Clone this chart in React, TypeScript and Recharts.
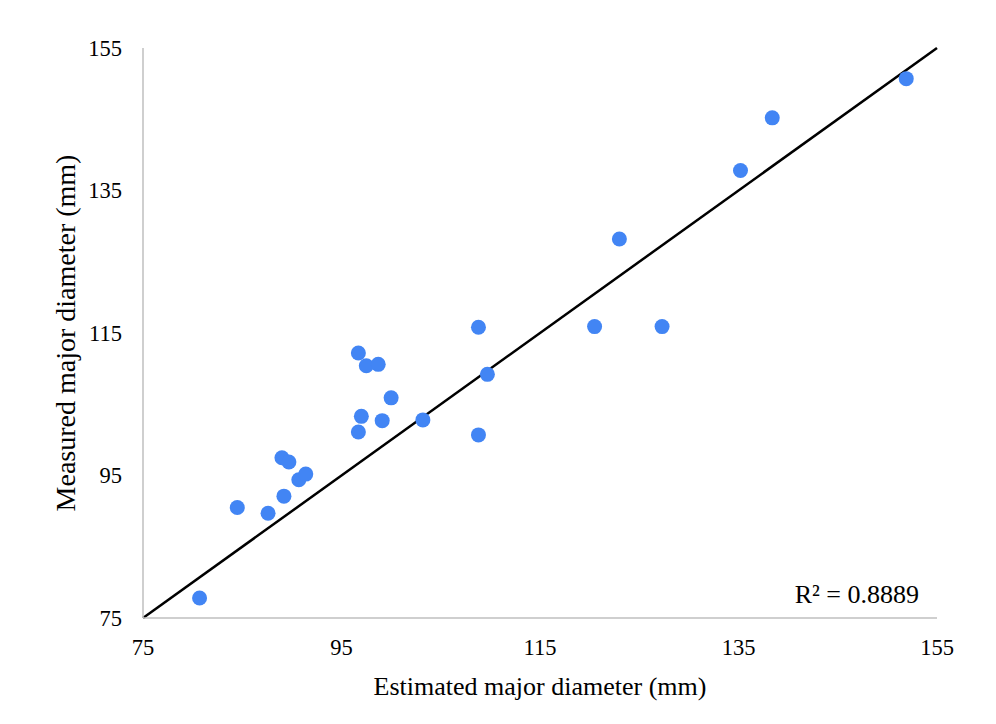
import { ScatterChart, Scatter, XAxis, YAxis, ReferenceLine } from 'recharts';

// estimated (x) vs measured (y) major diameter, mm
const estimated = [
  80.7, 84.5, 87.6, 89.2, 90.7, 91.4, 89.0, 89.7, 96.7, 97.0, 99.1, 100.0, 96.7,
  97.5, 98.7, 103.2, 108.8, 109.7, 108.8, 151.9, 138.4, 135.2, 123.0, 120.5, 127.3,
];
const measured = [
  77.8, 90.5, 89.7, 92.1, 94.4, 95.2, 97.5, 96.9, 101.1, 103.3, 102.7, 105.9, 112.2,
  110.4, 110.6, 102.8, 115.8, 109.2, 100.7, 150.7, 145.2, 137.8, 128.2, 115.9, 115.9,
];
const axisTicks = [75, 95, 115, 135, 155];
const trendX = [75, 155];
const trendY = [75, 155];
const r2Label = 'R² = 0.8889';

const points = estimated.map((x, i) => ({ x, y: measured[i] }));

const FONT = "'Liberation Serif', 'Times New Roman', serif";
const tickStyle = { fontFamily: FONT, fontSize: 22.5, fill: '#000' };

const Dot = (p: any) => <circle cx={p.cx} cy={p.cy} r={7.5} fill="#4285f4" />;

export default function App() {
  return (
    <div
      style={{
        marginLeft: -1,
        marginTop: -1,
        borderLeft: '1px solid #d9d9d9',
        borderTop: '1px solid #d9d9d9',
        width: 1000,
        height: 740,
        background: '#fff',
      }}
    >
      <ScatterChart width={988} height={716} margin={{ top: 40, right: 59, left: 0, bottom: 26 }}>
        <XAxis
          type="number"
          dataKey="x"
          domain={[75, 155]}
          ticks={axisTicks}
          tickLine={false}
          tickSize={0}
          tickMargin={21}
          axisLine={{ stroke: '#bfbfbf', strokeWidth: 1.5 }}
          tick={tickStyle}
          height={80}
          label={{
            value: 'Estimated major diameter (mm)',
            position: 'insideBottom',
            offset: 3,
            style: { fontFamily: FONT, fontSize: 26, fill: '#000' },
          }}
        />
        <YAxis
          type="number"
          dataKey="y"
          domain={[75, 155]}
          ticks={axisTicks}
          tickLine={false}
          tickSize={0}
          tickMargin={21}
          axisLine={{ stroke: '#bfbfbf', strokeWidth: 1.5 }}
          tick={tickStyle}
          width={135}
          label={{
            value: 'Measured major diameter (mm)',
            angle: -90,
            position: 'insideLeft',
            offset: 57,
            style: { fontFamily: FONT, fontSize: 28, fill: '#000', textAnchor: 'middle' },
          }}
        />
        <ReferenceLine
          segment={[
            { x: trendX[0], y: trendY[0] },
            { x: trendX[1], y: trendY[1] },
          ]}
          stroke="#000"
          strokeWidth={2.5}
          ifOverflow="visible"
        />
        <Scatter data={points} shape={Dot} isAnimationActive={false} />
        <text x={911} y={595} textAnchor="end" fontFamily={FONT} fontSize={26} fill="#000">
          {r2Label}
        </text>
      </ScatterChart>
    </div>
  );
}
